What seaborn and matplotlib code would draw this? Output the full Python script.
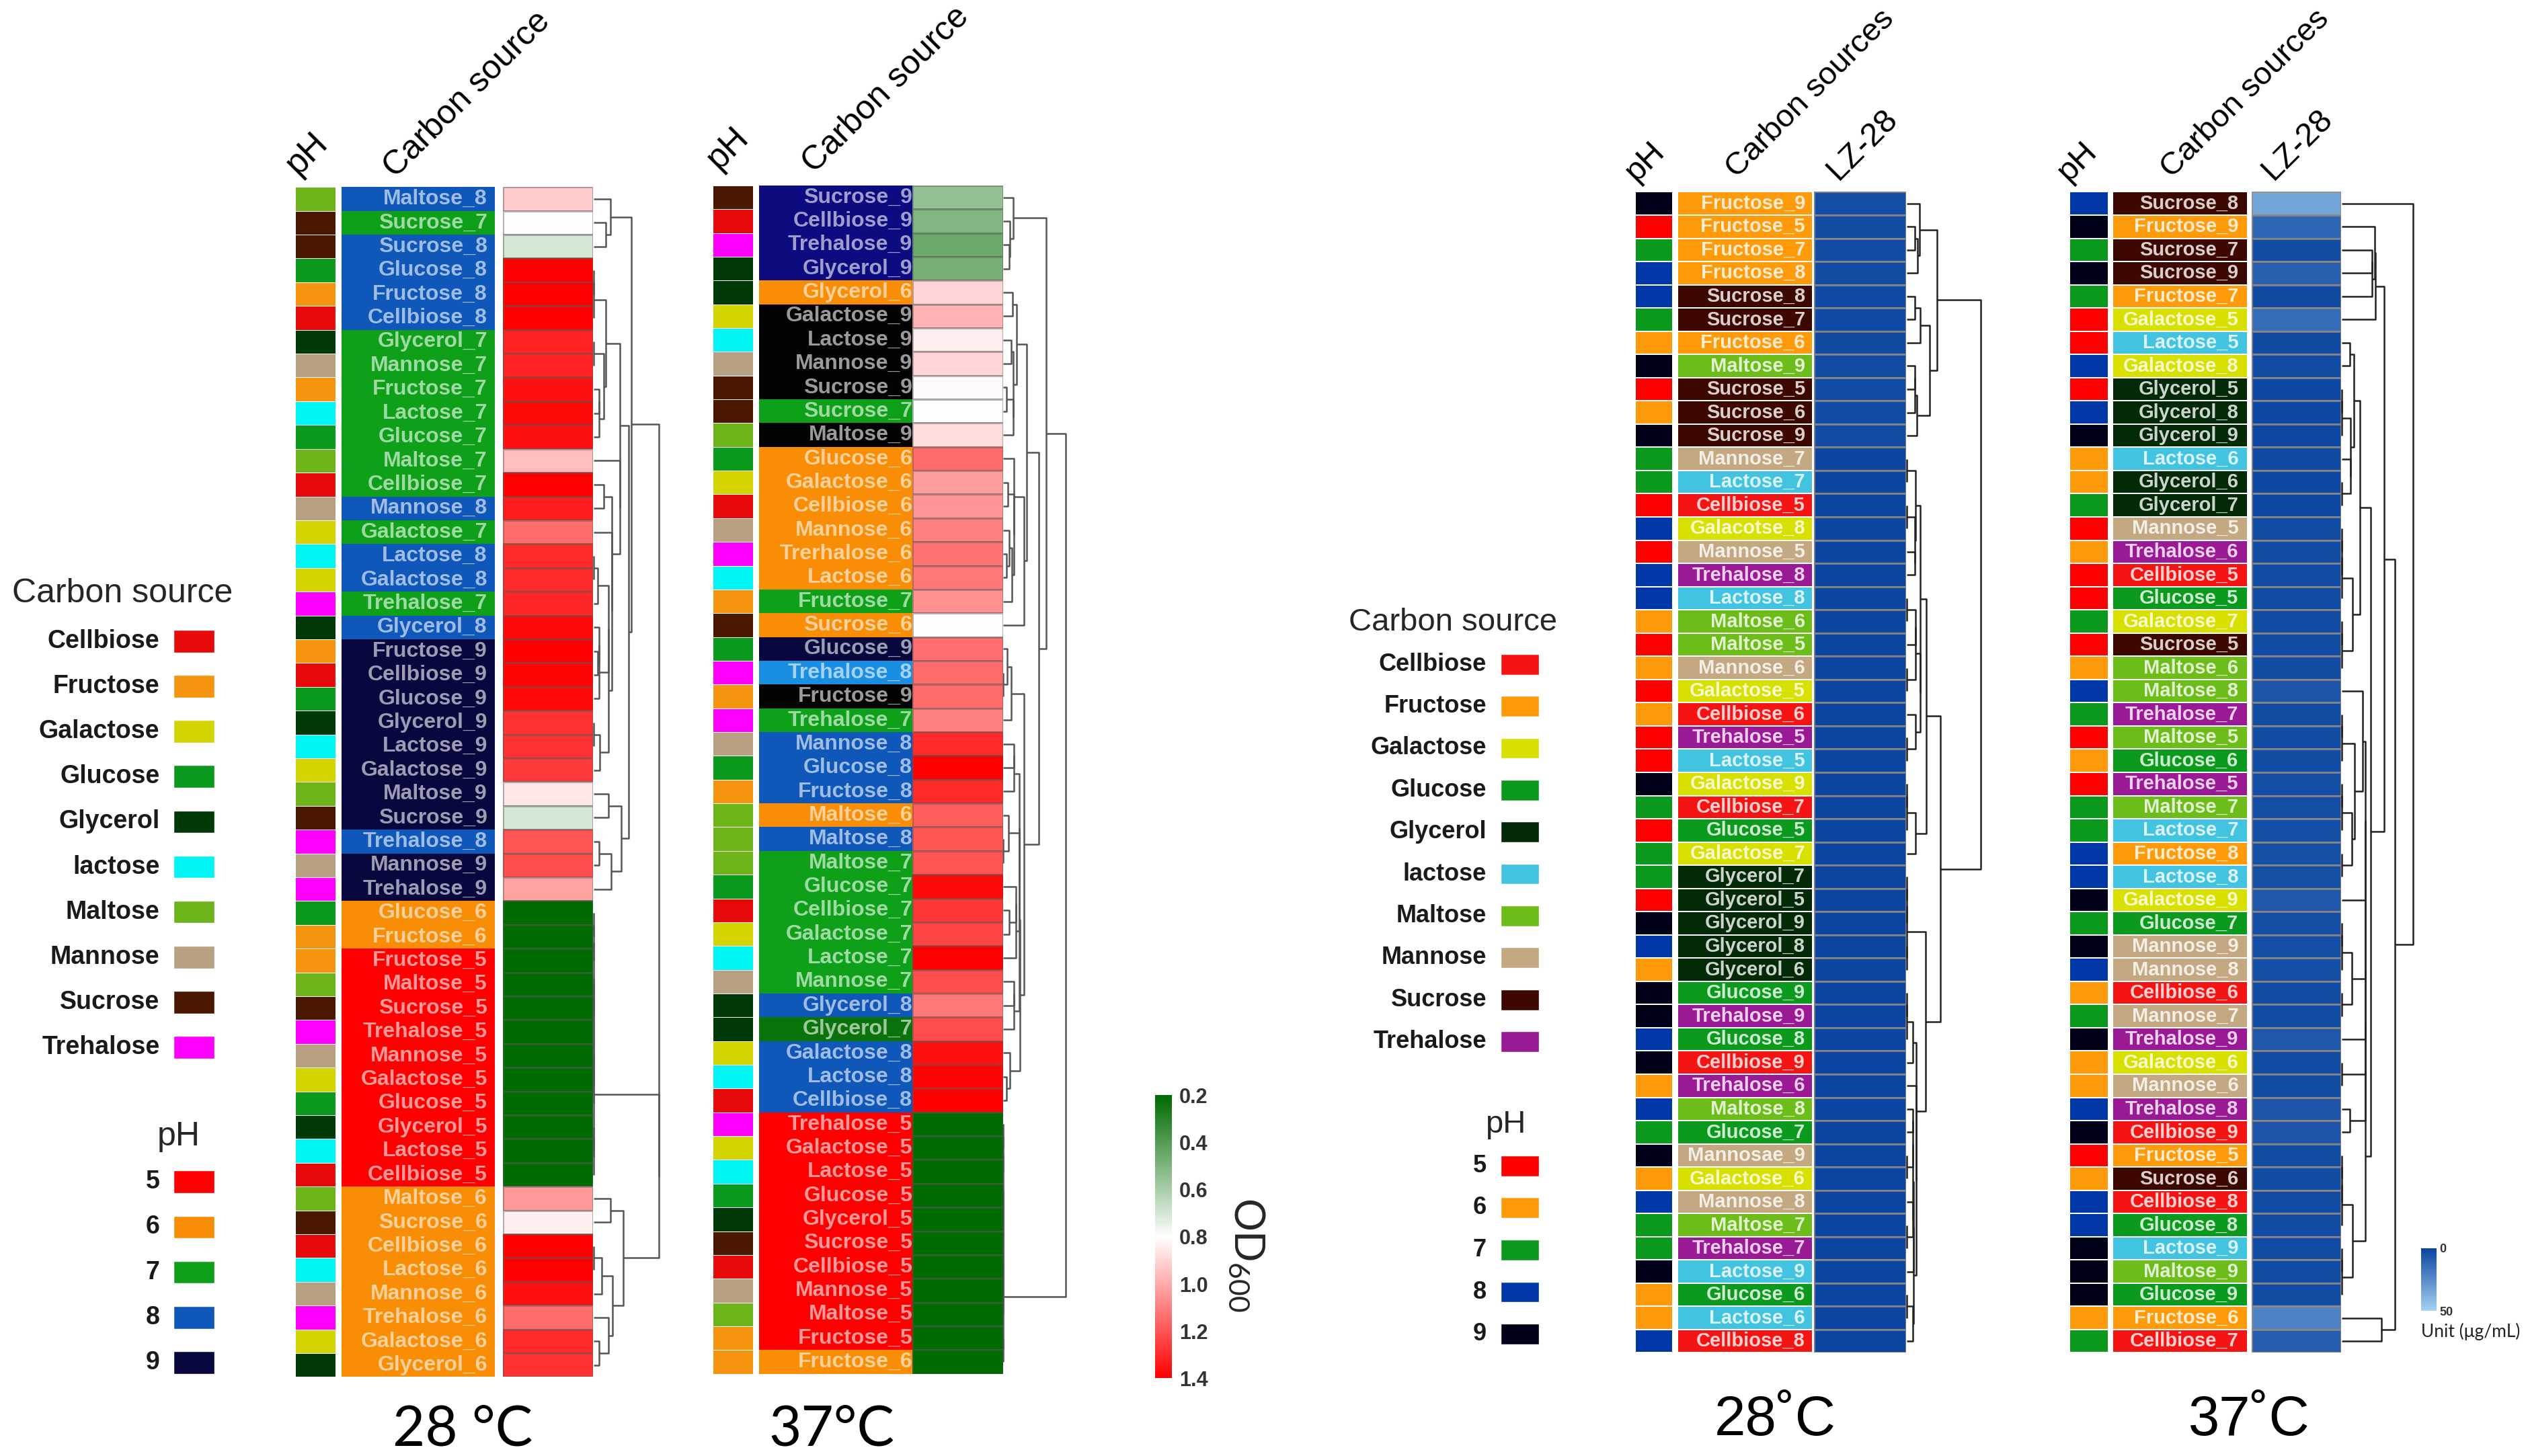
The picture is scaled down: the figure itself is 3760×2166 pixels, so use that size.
import numpy as np
import pandas as pd
import matplotlib
matplotlib.use('Agg')
import matplotlib.pyplot as plt
import seaborn as sns
from matplotlib.colors import ListedColormap, LinearSegmentedColormap, to_rgb

sns.set_theme(style='white')
plt.rcParams['font.family'] = ['Liberation Sans', 'DejaVu Sans']

# ---------------- data ----------------
carbon_names = ['Cellbiose', 'Fructose', 'Galactose', 'Glucose', 'Glycerol',
                'lactose', 'Maltose', 'Mannose', 'Sucrose', 'Trehalose']
ph_levels = [5, 6, 7, 8, 9]

# OD600, 28 °C (rows top -> bottom)
od28_labels = ['Maltose_8', 'Sucrose_7', 'Sucrose_8', 'Glucose_8', 'Fructose_8', 'Cellbiose_8',
               'Glycerol_7', 'Mannose_7', 'Fructose_7', 'Lactose_7', 'Glucose_7', 'Maltose_7',
               'Cellbiose_7', 'Mannose_8', 'Galactose_7', 'Lactose_8', 'Galactose_8', 'Trehalose_7',
               'Glycerol_8', 'Fructose_9', 'Cellbiose_9', 'Glucose_9', 'Glycerol_9', 'Lactose_9',
               'Galactose_9', 'Maltose_9', 'Sucrose_9', 'Trehalose_8', 'Mannose_9', 'Trehalose_9',
               'Glucose_6', 'Fructose_6', 'Fructose_5', 'Maltose_5', 'Sucrose_5', 'Trehalose_5',
               'Mannose_5', 'Galactose_5', 'Glucose_5', 'Glycerol_5', 'Lactose_5', 'Cellbiose_5',
               'Maltose_6', 'Sucrose_6', 'Cellbiose_6', 'Lactose_6', 'Mannose_6', 'Trehalose_6',
               'Galactose_6', 'Glycerol_6']
od28_values = [0.92, 0.80, 0.70, 1.40, 1.40, 1.40,
               1.32, 1.32, 1.36, 1.38, 1.36, 0.95,
               1.40, 1.33, 1.15, 1.30, 1.30, 1.31,
               1.38, 1.40, 1.39, 1.38, 1.28, 1.28,
               1.26, 0.86, 0.70, 1.20, 1.22, 1.02,
               0.20, 0.20, 0.20, 0.20, 0.20, 0.20,
               0.20, 0.20, 0.20, 0.20, 0.20, 0.20,
               1.04, 0.84, 1.40, 1.40, 1.36, 1.15,
               1.30, 1.28]

# OD600, 37 °C
od37_labels = ['Sucrose_9', 'Cellbiose_9', 'Trehalose_9', 'Glycerol_9', 'Glycerol_6',
               'Galactose_9', 'Lactose_9', 'Mannose_9', 'Sucrose_9', 'Sucrose_7', 'Maltose_9',
               'Glucose_6', 'Galactose_6', 'Cellbiose_6', 'Mannose_6', 'Trerhalose_6', 'Lactose_6',
               'Fructose_7', 'Sucrose_6', 'Glucose_9', 'Trehalose_8', 'Fructose_9', 'Trehalose_7',
               'Mannose_8', 'Glucose_8', 'Fructose_8', 'Maltose_6', 'Maltose_8', 'Maltose_7',
               'Glucose_7', 'Cellbiose_7', 'Galactose_7', 'Lactose_7', 'Mannose_7', 'Glycerol_8',
               'Glycerol_7', 'Galactose_8', 'Lactose_8', 'Cellbiose_8', 'Trehalose_5', 'Galactose_5',
               'Lactose_5', 'Glucose_5', 'Glycerol_5', 'Sucrose_5', 'Cellbiose_5', 'Mannose_5',
               'Maltose_5', 'Fructose_5', 'Fructose_6']
od37_values = [0.55, 0.50, 0.45, 0.48, 0.90,
               0.98, 0.84, 0.90, 0.81, 0.80, 0.88,
               1.15, 1.03, 1.05, 1.10, 1.13, 1.12,
               1.06, 0.80, 1.14, 1.15, 1.15, 1.10,
               1.30, 1.40, 1.30, 1.18, 1.20, 1.20,
               1.38, 1.27, 1.24, 1.40, 1.22, 1.12,
               1.22, 1.36, 1.39, 1.40, 0.20, 0.20,
               0.20, 0.20, 0.20, 0.20, 0.20, 0.20,
               0.20, 0.20, 0.20]

# LZ-28 (ug/mL), 28 °C
lz28_labels = ['Fructose_9', 'Fructose_5', 'Fructose_7', 'Fructose_8', 'Sucrose_8', 'Sucrose_7',
               'Fructose_6', 'Maltose_9', 'Sucrose_5', 'Sucrose_6', 'Sucrose_9', 'Mannose_7',
               'Lactose_7', 'Cellbiose_5', 'Galacotse_8', 'Mannose_5', 'Trehalose_8', 'Lactose_8',
               'Maltose_6', 'Maltose_5', 'Mannose_6', 'Galactose_5', 'Cellbiose_6', 'Trehalose_5',
               'Lactose_5', 'Galactose_9', 'Cellbiose_7', 'Glucose_5', 'Galactose_7', 'Glycerol_7',
               'Glycerol_5', 'Glycerol_9', 'Glycerol_8', 'Glycerol_6', 'Glucose_9', 'Trehalose_9',
               'Glucose_8', 'Cellbiose_9', 'Trehalose_6', 'Maltose_8', 'Glucose_7', 'Mannosae_9',
               'Galactose_6', 'Mannose_8', 'Maltose_7', 'Trehalose_7', 'Lactose_9', 'Glucose_6',
               'Lactose_6', 'Cellbiose_8']
lz28_values = [3.2, 3.0, 3.1, 2.9, 2.2, 2.3,
               2.0, 2.6, 2.5, 2.6, 2.7, 0.9,
               0.9, 0.8, 0.8, 0.9, 0.8, 0.7,
               0.7, 0.8, 0.7, 0.7, 0.8, 0.9,
               0.9, 0.6, 0.6, 0.6, 0.5, 0.2,
               0.2, 0.2, 0.2, 0.2, 0.4, 0.4,
               0.4, 0.45, 0.3, 0.4, 0.35, 0.4,
               0.4, 0.45, 0.4, 0.4, 0.35, 0.4,
               0.4, 0.45]

# LZ-28 (ug/mL), 37 °C
lz37_labels = ['Sucrose_8', 'Fructose_9', 'Sucrose_7', 'Sucrose_9', 'Fructose_7', 'Galactose_5',
               'Lactose_5', 'Galactose_8', 'Glycerol_5', 'Glycerol_8', 'Glycerol_9', 'Lactose_6',
               'Glycerol_6', 'Glycerol_7', 'Mannose_5', 'Trehalose_6', 'Cellbiose_5', 'Glucose_5',
               'Galactose_7', 'Sucrose_5', 'Maltose_6', 'Maltose_8', 'Trehalose_7', 'Maltose_5',
               'Glucose_6', 'Trehalose_5', 'Maltose_7', 'Lactose_7', 'Fructose_8', 'Lactose_8',
               'Galactose_9', 'Glucose_7', 'Mannose_9', 'Mannose_8', 'Cellbiose_6', 'Mannose_7',
               'Trehalose_9', 'Galactose_6', 'Mannose_6', 'Trehalose_8', 'Cellbiose_9', 'Fructose_5',
               'Sucrose_6', 'Cellbiose_8', 'Glucose_8', 'Lactose_9', 'Maltose_9', 'Glucose_9',
               'Fructose_6', 'Cellbiose_7']
lz37_values = [34, 12, 2.5, 10, 2, 14,
               2, 2.5, 1.5, 1.5, 1.5, 2,
               1.5, 1.5, 2.5, 2.5, 2.5, 2.5,
               3, 3, 3, 6, 3, 3,
               3, 3.5, 3.5, 3.5, 4, 4,
               7, 3.5, 3.5, 3.5, 3, 3,
               7, 3, 3, 6, 6.5, 3,
               3, 3, 3, 2.5, 2.5, 2.5,
               22, 9]

od_ticks = [0.2, 0.4, 0.6, 0.8, 1.0, 1.2, 1.4]
lz_ticks = [0, 50]

# ---------------- colours ----------------
od_carbon_colors = ['#e60a0a', '#f5940f', '#d4d400', '#0c9a1e', '#003a08',
                    '#00f5f5', '#6cb41a', '#b8a082', '#4a1800', '#ff00ff']
od_ph_colors = ['#ff0000', '#f98d05', '#0fa01a', '#0f57b8', '#08083f']
lz_carbon_colors = ['#f51414', '#ff9a0a', '#d8e000', '#0c9a1e', '#022a06',
                    '#42c4e0', '#6cbc1a', '#c4a882', '#3c0800', '#9a1a96']
lz_ph_colors = ['#ff0000', '#ff9a0a', '#0c9a1e', '#0038a8', '#00001a']
# label backgrounds that differ from the pH colour in the 37 °C OD panel
od37_bg_override = {0: '#0c0c80', 1: '#0c0c80', 2: '#0c0c80', 3: '#0c0c80',
                    5: '#030303', 6: '#030303', 7: '#030303', 8: '#030303',
                    10: '#030303', 21: '#030303', 20: '#1a8ee0', 35: '#0b730b'}

od_cmap = LinearSegmentedColormap.from_list('od', ['#006b00', '#ffffff', '#ff0000'])
lz_cmap = LinearSegmentedColormap.from_list('lz', ['#0a44a0', '#a6d2f2'])

alias = {'Galacotse': 'Galactose', 'Mannosae': 'Mannose', 'Trerhalose': 'Trehalose',
         'Lactose': 'lactose'}

W, H = 1568.0, 903.0


def box(x0, y0, x1, y1):
    return [x0 / W, 1 - y1 / H, (x1 - x0) / W, (y1 - y0) / H]


def pt(x, y):
    return x / W, 1 - y / H


def parse(label):
    name, ph = label.rsplit('_', 1)
    return carbon_names.index(alias.get(name, name)), ph_levels.index(int(ph))


def blend(c, mix):
    r = np.array(to_rgb(c))
    return tuple(r + (1 - r) * mix)


def adjacent_tree(values):
    # order-preserving agglomerative clustering (ward distance between neighbours)
    nodes = [(float(v), 1, i + 0.5, 0.0) for i, v in enumerate(values)]
    links = []
    while len(nodes) > 1:
        costs = [np.sqrt(2 * a[1] * b[1] / (a[1] + b[1])) * abs(a[0] - b[0])
                 for a, b in zip(nodes[:-1], nodes[1:])]
        j = int(np.argmin(costs))
        a, b = nodes[j], nodes[j + 1]
        h = max(costs[j], a[3], b[3])
        links.append((a[2], a[3], b[2], b[3], h))
        n = a[1] + b[1]
        nodes[j:j + 2] = [((a[0] * a[1] + b[0] * b[1]) / n, n, (a[2] + b[2]) / 2, h)]
    return links


def strip(ax, colors, lw, lc):
    n = len(colors)
    sns.heatmap(np.arange(n).reshape(-1, 1), cmap=ListedColormap(colors), vmin=-0.5,
                vmax=n - 0.5, cbar=False, linewidths=lw, linecolor=lc,
                xticklabels=False, yticklabels=False, ax=ax)


fig = plt.figure(figsize=(37.6, 21.66), dpi=100)
fig.patch.set_facecolor('white')

panels = [
    dict(labels=od28_labels, values=od28_values, kind='od', ph=(183, 208), lab=(212, 307),
         heat=(312, 368), den=(368, 410), y=(116, 854), size=23, tx=0.95, bg_over={}),
    dict(labels=od37_labels, values=od37_values, kind='od', ph=(442, 467), lab=(471, 566),
         heat=(566, 622), den=(622, 662), y=(115, 852), size=23, tx=1.0, bg_over=od37_bg_override),
    dict(labels=lz28_labels, values=lz28_values, kind='lz', ph=(1014, 1037.6), lab=(1040.4, 1124.3),
         heat=(1125.3, 1182.3), den=(1182.3, 1230), y=(119, 839), size=21, tx=0.945, bg_over={}),
    dict(labels=lz37_labels, values=lz37_values, kind='lz', ph=(1283.7, 1307.6), lab=(1310.2, 1394.3),
         heat=(1396.8, 1452.2), den=(1452.2, 1498), y=(119, 839), size=21, tx=0.93, bg_over={}),
]

heat_axes = []
for p in panels:
    y0, y1 = p['y']
    parsed = [parse(l) for l in p['labels']]
    n = len(parsed)
    if p['kind'] == 'od':
        strip_cols = [od_carbon_colors[c] for c, _ in parsed]
        bg_cols = [p['bg_over'].get(i, od_ph_colors[ph]) for i, (_, ph) in enumerate(parsed)]
        txt_cols = [blend(c, 0.6) for c in bg_cols]
        strip_lw, lab_lw = 0.4, 0
        cmap, vmin, vmax = od_cmap, 0.2, 1.4
        cell_lc = (0.35, 0.35, 0.35, 0.45)
        den_col = '#555555'
    else:
        strip_cols = [lz_ph_colors[ph] for _, ph in parsed]
        bg_cols = [lz_carbon_colors[c] for c, _ in parsed]
        txt_cols = [blend(c, 0.8) for c in bg_cols]
        strip_lw, lab_lw = 1.2, 1.2
        cmap, vmin, vmax = lz_cmap, 0, 50
        cell_lc = (0.6, 0.55, 0.5, 0.8)
        den_col = '#222222'

    ax_ph = fig.add_axes(box(p['ph'][0], y0, p['ph'][1], y1))
    strip(ax_ph, strip_cols, strip_lw, 'white')

    ax_lab = fig.add_axes(box(p['lab'][0], y0, p['lab'][1], y1))
    strip(ax_lab, bg_cols, lab_lw, 'white')
    for i, lab in enumerate(p['labels']):
        ax_lab.text(p['tx'], i + 0.5, lab, ha='right', va='center', fontsize=p['size'],
                    fontweight='bold', color=txt_cols[i], clip_on=True)

    ax_h = fig.add_axes(box(p['heat'][0], y0, p['heat'][1], y1))
    sns.heatmap(pd.DataFrame({'v': p['values']}), cmap=cmap, vmin=vmin, vmax=vmax, cbar=False,
                linewidths=1.0, linecolor=cell_lc, xticklabels=False, yticklabels=False, ax=ax_h)
    heat_axes.append(ax_h)

    ax_d = fig.add_axes(box(p['den'][0], y0, p['den'][1], y1))
    links = adjacent_tree(p['values'])
    top = np.sqrt(max(l[4] for l in links))
    for ya, ha, yb, hb, h in links:
        ax_d.plot(np.sqrt([ha, h, h, hb]), [ya, ya, yb, yb], color=den_col, lw=1.8,
                  solid_capstyle='butt')
    ax_d.set_ylim(n, 0)
    ax_d.set_xlim(-top * 0.01, top * 1.03)
    ax_d.axis('off')

# ---------------- column headers ----------------
hdr = [(188, 112, 'pH', 37), (248, 114, 'Carbon source', 36),
       (449, 109, 'pH', 37), (508, 111, 'Carbon source', 36),
       (1018, 116, 'pH', 35), (1080, 114, 'Carbon sources', 34), (1143, 115, 'LZ-28', 35),
       (1286, 116, 'pH', 35), (1350, 114, 'Carbon sources', 34), (1413, 115, 'LZ-28', 35)]
for x, y, t, s in hdr:
    fig.text(*pt(x, y), t, rotation=45, rotation_mode='anchor', ha='left', va='bottom',
             fontsize=s, color='black')

# temperature labels
for x, y, t, fam in [(287, 887, '28 °C', 'Lato'), (516, 887, '37°C', 'Lato'),
                     (1101, 881, '28˚C', 'Liberation Sans'), (1395, 881, '37˚C', 'Liberation Sans')]:
    fig.text(*pt(x, y), t, ha='center', va='center', fontsize=60,
             family=[fam, 'DejaVu Sans'], color='black')

# ---------------- colour bars ----------------
cax = fig.add_axes(box(716.5, 679.3, 726.7, 854.8))
cb = fig.colorbar(heat_axes[0].collections[0], cax=cax)
cb.set_ticks(od_ticks)
cb.set_ticklabels([f'{t:.1f}' for t in od_ticks])
cb.ax.invert_yaxis()
cb.outline.set_visible(False)
cb.ax.tick_params(length=0, labelsize=22, pad=8, labelcolor='#333333')
for t in cb.ax.get_yticklabels():
    t.set_fontweight('bold')
fig.text(*pt(773, 778), r'OD$_{\mathregular{600}}$', rotation=270, ha='center', va='center',
         fontsize=44, family=['Lato', 'DejaVu Sans'])

cax2 = fig.add_axes(box(1501.5, 774, 1511.4, 813))
cb2 = fig.colorbar(heat_axes[3].collections[0], cax=cax2)
cb2.set_ticks(lz_ticks)
cb2.ax.invert_yaxis()
cb2.outline.set_visible(False)
cb2.ax.tick_params(length=0, labelsize=13, pad=3, labelcolor='#333333')
for t in cb2.ax.get_yticklabels():
    t.set_fontweight('bold')
fig.text(*pt(1501.5, 826), 'Unit (μg/mL)', ha='left', va='center', fontsize=19,
         family=['Lato', 'DejaVu Sans'], color='#222222')


# ---------------- legends ----------------
def legend_block(names, colors, xl, xr, x_text, px0, px1, y_first, step, patch_h, size):
    n = len(names)
    ax = fig.add_axes(box(xl, y_first - step / 2, xr, y_first + step * (n - 0.5)))
    ax.barh(np.arange(n) + 0.5, px1 - px0, left=px0, height=patch_h / step, color=colors)
    for i, name in enumerate(names):
        ax.text(x_text, i + 0.5, name, ha='right', va='center', fontsize=size, fontweight='bold',
                color='#1a1a1a')
    ax.set_xlim(xl, xr)
    ax.set_ylim(n, 0)
    ax.axis('off')


ph_names = [str(p) for p in ph_levels]
fig.text(*pt(76, 368), 'Carbon source', ha='center', va='center', fontsize=36)
legend_block(carbon_names, od_carbon_colors, 0, 140, 99, 107.5, 133, 397.6, 28, 14, 27)
fig.text(*pt(111, 705), 'pH', ha='center', va='center', fontsize=36)
legend_block(ph_names, od_ph_colors, 0, 140, 99, 107.5, 133, 733, 28, 14, 27)

fig.text(*pt(901, 386), 'Carbon source', ha='center', va='center', fontsize=34)
legend_block(carbon_names, lz_carbon_colors, 820, 965, 922, 930.6, 954.6, 412, 26, 12.8, 26)
fig.text(*pt(934, 697.5), 'pH', ha='center', va='center', fontsize=34)
legend_block(ph_names, lz_ph_colors, 820, 965, 922, 930.6, 954.6, 723, 26.1, 12.8, 26)

fig.savefig('out.png', dpi=100)
